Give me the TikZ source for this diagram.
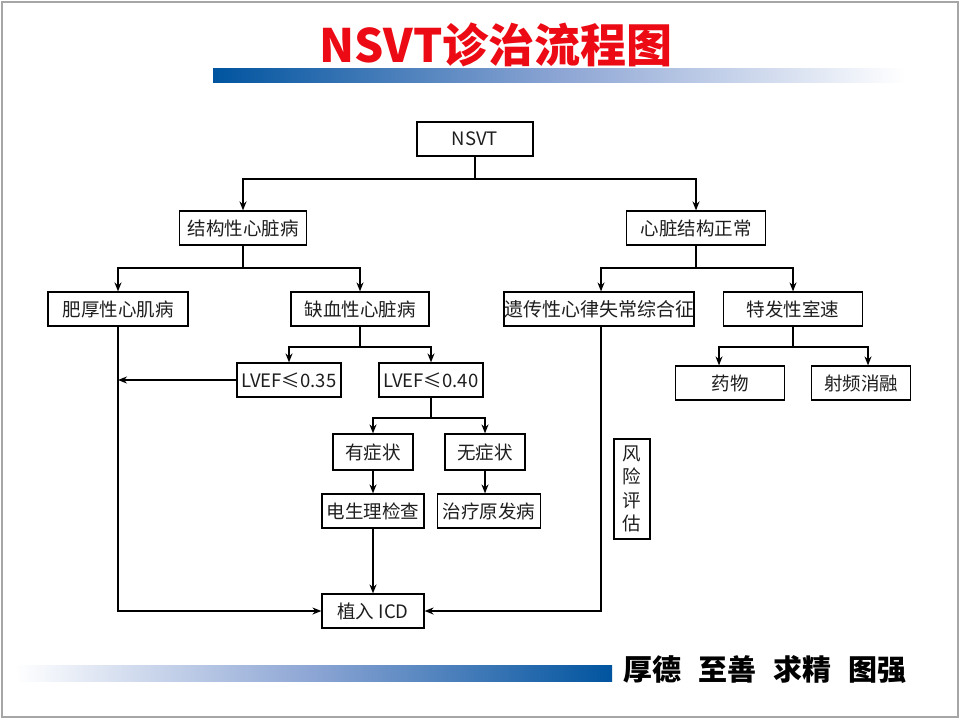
\documentclass[tikz,border=0pt]{standalone}
\usepackage{fontspec}
\setmainfont{Noto Sans CJK SC}
\usetikzlibrary{arrows.meta,calc}
\definecolor{txt}{HTML}{1E1E1E}
\definecolor{barblue}{RGB}{0,84,159}
\definecolor{barmid}{RGB}{140,165,212}
\definecolor{titlered}{RGB}{236,10,20}
\tikzset{
  box/.style={draw=black, line width=1.2pt, text=txt, inner sep=0pt,
    minimum height=34pt, font=\fontsize{18.5}{20}\selectfont},
  arr/.style={line width=1.5pt, -{Stealth[length=9pt,width=7pt]}},
  ln/.style={line width=1.5pt}
}
\begin{document}
\begin{tikzpicture}[x=1pt,y=-1pt]
\useasboundingbox (0,0) rectangle (960,720);
\fill[white] (0,0) rectangle (960,720);
% frame
\draw[gray!70, line width=2pt] (1.5,1.5) rectangle (958,717);
% top bar
\shade[left color=barblue, right color=white, middle color=barmid] (213,68) rectangle (905,82);
% bottom bar
\shade[left color=white, right color=barblue, middle color=barmid] (15,665) rectangle (612,681);
% title
\node[text=titlered, font=\fontsize{46}{50}\selectfont\bfseries] (title) at (496,45) {NSVT诊治流程图};
% motto
\node[text=black, font=\fontsize{29}{31}\selectfont\bfseries, anchor=west] (motto) at (620,670) {厚德\hspace{17pt}至善\hspace{17pt}求精\hspace{17pt}图强};

% nodes
\node[box, minimum width=116pt] (nsvt) at (475,139) {NSVT};
\node[box, minimum width=127pt] (jg) at (243,228) {结构性心脏病};
\node[box, minimum width=139pt] (zc) at (696,228) {心脏结构正常};
\node[box, minimum width=140pt] (fh) at (118,309) {肥厚性心肌病};
\node[box, minimum width=138pt] (qx) at (360,309) {缺血性心脏病};
\node[box, minimum width=186pt, font=\fontsize{19}{20}\selectfont] (yc) at (599,309) {遗传性心律失常综合征};
\node[box, minimum width=139pt] (tf) at (793,309) {特发性室速};
\node[box, minimum width=109pt] (yw) at (730,383) {药物};
\node[box, minimum width=99pt] (sp) at (861,383) {射频消融};
\node[box, minimum width=104pt] (lv35) at (289,380) {LVEF≤0.35};
\node[box, minimum width=104pt] (lv40) at (431,380) {LVEF≤0.40};
\node[box, minimum width=80pt, minimum height=36pt] (yz) at (373,452) {有症状};
\node[box, minimum width=80pt, minimum height=36pt] (wz) at (485,452) {无症状};
\node[box, minimum width=102pt] (dsl) at (373,511) {电生理检查};
\node[box, minimum width=103pt] (zl) at (489,511) {治疗原发病};
\node[box, minimum width=102pt] (icd) at (373,611) {植入 ICD};
\node[box, minimum width=36pt, minimum height=100pt, align=center, font=\fontsize{18.5}{23.3}\selectfont] (fx) at (632,489) {风\\险\\评\\估};

% branch coordinates
\coordinate (b1) at (475,179);
\coordinate (b2) at (243,268);
\coordinate (b3) at (696,268);
\coordinate (b4) at (360,347);
\coordinate (b5) at (793,347);
\coordinate (b6) at (431,418);
\coordinate (t5l) at (719,347);
\coordinate (t5r) at (868,347);

% connectors
\draw[ln] (nsvt.south) -- (b1);
\draw[arr] (b1) -| (jg.north);
\draw[arr] (b1) -| (zc.north);

\draw[ln] (jg.south) -- (b2);
\draw[arr] (b2) -| (fh.north);
\draw[arr] (b2) -| (qx.north);

\draw[ln] (zc.south) -- (b3);
\draw[arr] (b3) -| ($(yc.north)+(2,0)$);
\draw[arr] (b3) -| (tf.north);

\draw[ln] (tf.south) -- (b5);
\draw[arr] (b5) -- (t5l) -- (t5l |- yw.north);
\draw[arr] (b5) -- (t5r) -- (t5r |- sp.north);

\draw[ln] (qx.south) -- (b4);
\draw[arr] (b4) -| (lv35.north);
\draw[arr] (b4) -| (lv40.north);

\draw[arr] (lv35.west) -- (lv35.west -| fh.south);

\draw[ln] (lv40.south) -- (b6);
\draw[arr] (b6) -| (yz.north);
\draw[arr] (b6) -| (wz.north);

\draw[arr] (yz.south) -- (dsl.north);
\draw[arr] (wz.south) -- (wz.south |- zl.north);
\draw[arr] (dsl.south) -- (icd.north);

\draw[arr] (fh.south) |- (icd.west);
\draw[arr] ($(yc.south)+(2,0)$) |- (icd.east);
\end{tikzpicture}
\end{document}
